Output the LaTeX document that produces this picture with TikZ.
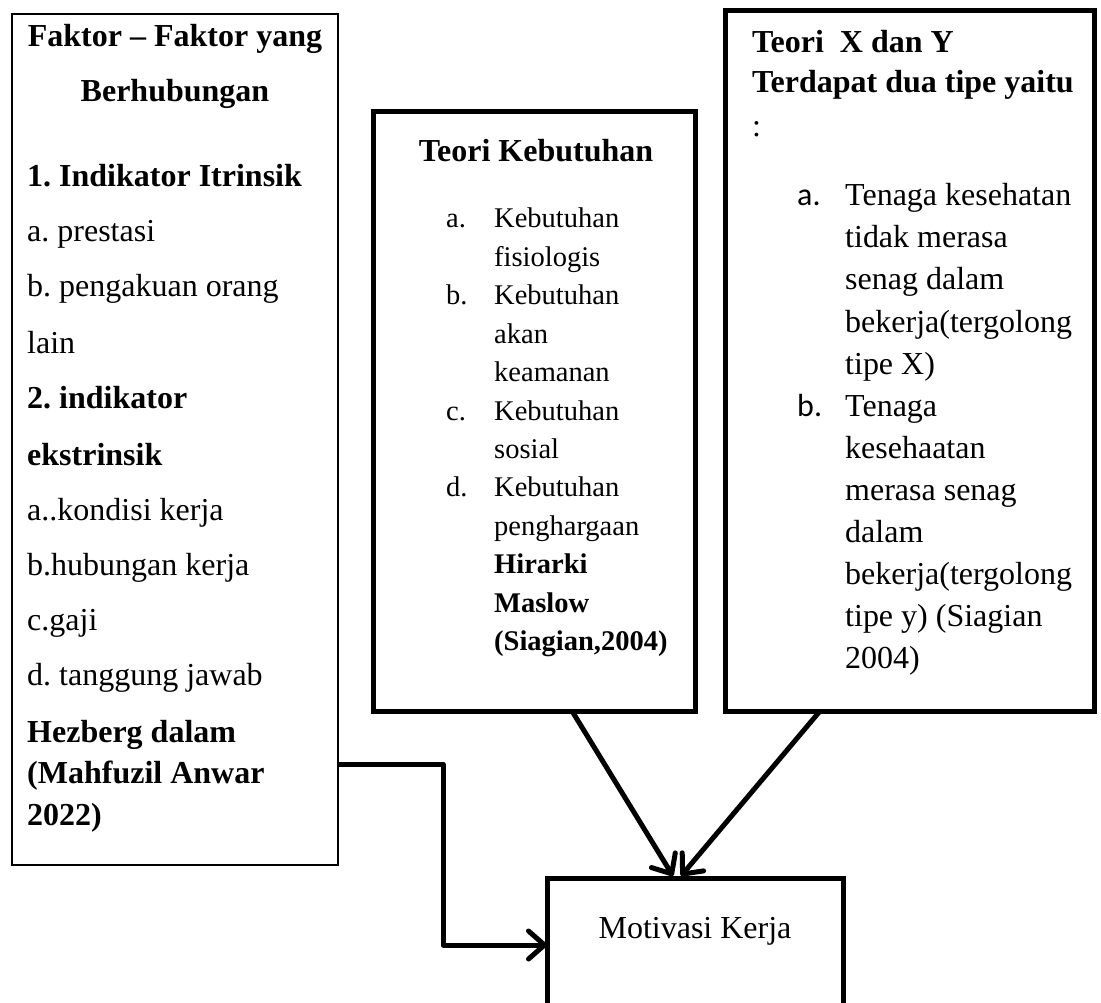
\documentclass[tikz,border=0pt]{standalone}
\usepackage{fontspec}
\setmainfont{Liberation Serif}
\newfontfamily\lblfont{Carlito}
\usetikzlibrary{arrows.meta}
\begin{document}
\frenchspacing
\begin{tikzpicture}[x=1pt,y=-1pt,
  box/.style={draw,rectangle,inner sep=0pt,outer sep=0pt,anchor=north west,line width=5pt},
  thinbox/.style={box,line width=2pt},
  big/.style={font=\fontsize{32}{38}\selectfont\frenchspacing,inner sep=0pt,anchor=base west},
  bigb/.style={font=\fontsize{32}{38}\selectfont\bfseries\frenchspacing,inner sep=0pt,anchor=base west},
  small/.style={font=\fontsize{28.5}{34}\selectfont\frenchspacing,inner sep=0pt,anchor=base west},
  smallb/.style={font=\fontsize{28.5}{34}\selectfont\bfseries\frenchspacing,inner sep=0pt,anchor=base west},
  lbl/.style={font=\fontsize{32}{38}\selectfont\lblfont,inner sep=0pt,anchor=base west},
  conn/.style={line width=5pt,line join=round,-{Straight Barb[length=16pt,width=28pt,round]}}
]
\useasboundingbox (0,0) rectangle (1101,1003);

% boxes
\node[thinbox,minimum width=326pt,minimum height=851pt] (left) at (12,14) {};
\node[box,minimum width=322pt,minimum height=599pt] (mid) at (373,112) {};
\node[box,minimum width=369pt,minimum height=700pt] (right) at (725,11) {};
\node[box,minimum width=296pt,minimum height=150pt] (mot) at (547,878) {};

% left box text
\node[bigb,anchor=base] (lh1) at (175,47) {Faktor – Faktor yang};
\node[bigb,anchor=base] (lh2) at (175,102) {Berhubungan};
\foreach \n/\yy/\t in {l1/187/{1. Indikator Itrinsik}, l5/408/{2. indikator}, l6/465/{ekstrinsik},
  l11/742/{Hezberg dalam}, l12/783/{(Mahfuzil Anwar}, l13/825/{2022)}}
  \node[bigb] (\n) at (27,\yy) {\t};
\foreach \n/\yy/\t in {l2/242/{a. prestasi}, l3/297/{b. pengakuan orang}, l4/353/{lain},
  l7/520/{a..kondisi kerja}, l8/575/{b.hubungan kerja}, l9/630/{c.gaji}, l10/685/{d. tanggung jawab}}
  \node[big] (\n) at (27,\yy) {\t};

% middle box text
\node[bigb,anchor=base] (mh) at (536,162) {Teori Kebutuhan};
\foreach \n/\yy/\t in {ma/228/{a.}, mb/304.8/{b.}, mc/420/{c.}, md/496.8/{d.}}
  \node[small] (\n) at (446,\yy) {\t};
\foreach \n/\yy/\t in {m1/228/{Kebutuhan}, m2/266.4/{fisiologis}, m3/304.8/{Kebutuhan}, m4/343.2/{akan},
  m5/381.6/{keamanan}, m6/420/{Kebutuhan}, m7/458.4/{sosial}, m8/496.8/{Kebutuhan}, m9/535.2/{penghargaan}}
  \node[small] (\n) at (494,\yy) {\t};
\foreach \n/\yy/\t in {m10/573.6/{Hirarki}, m11/612/{Maslow}, m12/650.4/{(Siagian,2004)}}
  \node[smallb] (\n) at (494,\yy) {\t};

% right box text
\node[bigb] (rh1) at (752,53) {Teori\ \ X dan Y};
\node[bigb] (rh2) at (752,93) {Terdapat dua tipe yaitu};
\node[big] (rh3) at (752,137) {:};
\node[lbl] (ra) at (797,206) {a.};
\node[lbl] (rb) at (797,416) {b.};
\foreach \n/\yy/\t in {r1/206/{Tenaga kesehatan}, r2/248/{tidak merasa}, r3/290/{senag dalam},
  r4/332/{bekerja(tergolong}, r5/374/{tipe X)}, r6/416/{Tenaga}, r7/458/{kesehaatan},
  r8/500/{merasa senag}, r9/542/{dalam}, r10/584/{bekerja(tergolong}, r11/626/{tipe y) (Siagian}, r12/668/{2004)}}
  \node[big] (\n) at (845,\yy) {\t};

% target text
\node[big,anchor=base] (mt) at (695,938) {Motivasi Kerja};

% connectors
\draw[conn] ([xshift=199pt]mid.south west) -- ([xshift=126pt,yshift=2pt]mot.north west);
\draw[conn] ([xshift=95pt]right.south west) -- ([xshift=134pt,yshift=2pt]mot.north west);
\draw[conn] ([yshift=-750pt]left.north east) -- ++(105,0) |- ([yshift=-67pt]mot.north west);
\end{tikzpicture}
\end{document}
